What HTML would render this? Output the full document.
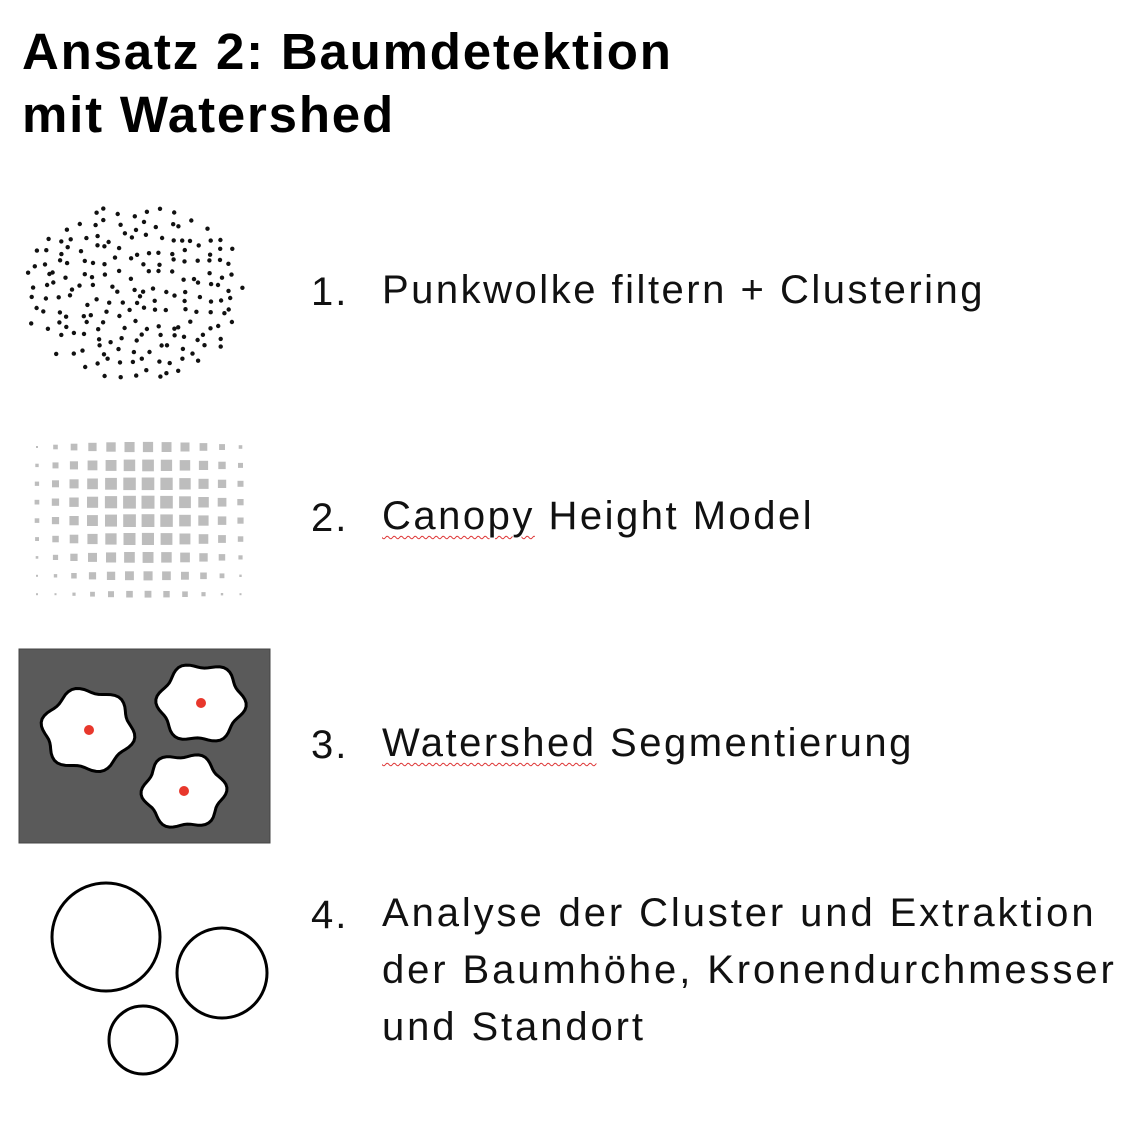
<!DOCTYPE html>
<html><head><meta charset="utf-8"><style>
html,body{margin:0;padding:0;background:#fff;}
body{width:1145px;height:1130px;position:relative;overflow:hidden;font-family:"Liberation Sans",sans-serif;}
.t{position:absolute;left:22px;font-weight:bold;font-size:51px;color:#000;line-height:1;letter-spacing:1.8px}
.n{position:absolute;left:311px;font-size:40px;color:#111;line-height:1;letter-spacing:2px}
.x{position:absolute;left:382px;font-size:40px;color:#111;line-height:57px;letter-spacing:2.9px;white-space:nowrap}
.w{text-decoration:underline wavy #d33;text-decoration-thickness:1px;text-underline-offset:6px}
svg{position:absolute;left:0;top:0}
</style></head><body>
<div class="t" style="top:26px">Ansatz 2: Baumdetektion</div>
<div class="t" style="top:89px">mit Watershed</div>
<div class="n" style="top:272px">1.</div><div class="x" style="top:262px;letter-spacing:2.5px">Punkwolke filtern + Clustering</div>
<div class="n" style="top:498px">2.</div><div class="x" style="top:488px;letter-spacing:2.5px"><span class="w">Canopy</span> Height Model</div>
<div class="n" style="top:725px">3.</div><div class="x" style="top:715px;letter-spacing:2.5px"><span class="w">Watershed</span> Segmentierung</div>
<div class="n" style="top:895px">4.</div><div class="x" style="top:885px">Analyse der Cluster und Extraktion<br>der Baumhöhe, Kronendurchmesser<br>und Standort</div>
<svg width="1145" height="1130" id="s">
<g id="dots" fill="#111"></g>
<g id="grid" fill="#bdbdbd"></g>
<rect x="19" y="649" width="251" height="194" fill="#5a5a5a" stroke="#444"/>
<g id="blobs" fill="#fff" stroke="#000" stroke-width="3"></g>
<g fill="#e8372c"><circle cx="89" cy="730" r="5"/><circle cx="201" cy="703" r="5"/><circle cx="184" cy="791" r="5"/></g>
<g fill="none" stroke="#000" stroke-width="3"><circle cx="106" cy="937" r="54"/><circle cx="222" cy="973" r="45"/><circle cx="143" cy="1040" r="34"/></g>
</svg>
<script>
var ns="http://www.w3.org/2000/svg";
function el(p,t,a){var e=document.createElementNS(ns,t);for(var k in a)e.setAttribute(k,a[k]);p.appendChild(e);}
var seed=7;function r(){seed=(seed*16807)%2147483647;return seed/2147483647;}
var d=document.getElementById("dots");
for(var gx=20;gx<=250;gx+=12.5)for(var gy=200;gy<=385;gy+=12.5){var x=gx+(r()-0.5)*10,y=gy+(r()-0.5)*10;var ex=(x-135)/112,ey=(y-292)/88;if(ex*ex+ey*ey<=1)el(d,"circle",{cx:x.toFixed(1),cy:y.toFixed(1),r:2.2});}
var g=document.getElementById("grid");
for(var c=0;c<12;c++)for(var w=0;w<9;w++){var x=37+c*18.5,y=447+w*18.4;var dx=(c-5.8)/6.3,dy=(w-3.2)/6;var s=Math.max(2,13*(1-0.75*(dx*dx+dy*dy)));el(g,"rect",{x:(x-s/2).toFixed(1),y:(y-s/2).toFixed(1),width:s.toFixed(1),height:s.toFixed(1)});}
var b=document.getElementById("blobs");
[[88,730,42,0.3],[201,703,40,1.2],[184,791,38,2.0]].forEach(function(o){var p="";for(var k=0;k<=72;k++){var a=k/72*6.283;var rr=o[2]*(1+0.08*Math.sin(6*a+o[3]));p+=(k?"L":"M")+(o[0]+rr*1.05*Math.cos(a)).toFixed(1)+","+(o[1]+rr*0.95*Math.sin(a)).toFixed(1);}el(b,"path",{d:p+"Z"});});
</script>
</body></html>
